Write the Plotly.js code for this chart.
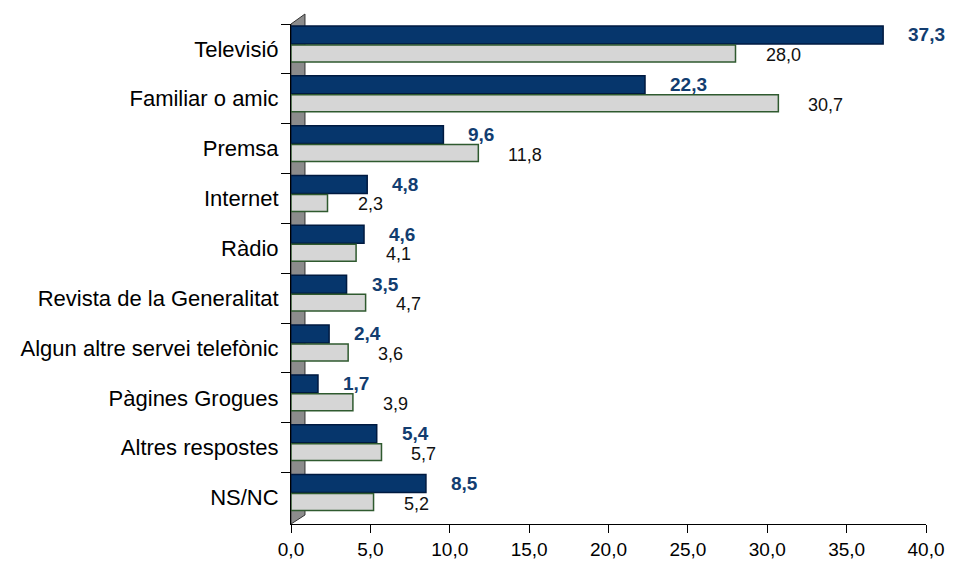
<!DOCTYPE html>
<html>
<head>
<meta charset="utf-8">
<script src="https://cdn.plot.ly/plotly-3.0.1.min.js"></script>
<style>html,body{margin:0;padding:0;background:#fff;}#chart{width:953px;height:564px;}</style>
</head>
<body>
<div id="chart"></div>
<script>
const categories = ["Televisió","Familiar o amic","Premsa","Internet","Ràdio","Revista de la Generalitat","Algun altre servei telefònic","Pàgines Grogues","Altres respostes","NS/NC"];
const seriesDark = [37.3,22.3,9.6,4.8,4.6,3.5,2.4,1.7,5.4,8.5];
const seriesLight = [28.0,30.7,11.8,2.3,4.1,4.7,3.6,3.9,5.7,5.2];
const xTicks = [0,5,10,15,20,25,30,35,40];

const fmt = v => v.toFixed(1).replace('.', ',');
const FONT = '"Liberation Sans", Arial, sans-serif';

const traces = [
  {
    type:'bar', orientation:'h', name:'A',
    x: seriesDark, y: categories,
    offset:-0.46, width:0.36,
    marker:{color:'#06366c', line:{color:'#001a40', width:1.5}},
    hoverinfo:'none'
  },
  {
    type:'bar', orientation:'h', name:'B',
    x: seriesLight, y: categories,
    offset:-0.08, width:0.34,
    marker:{color:'#d6d6d6', line:{color:'#2f5a2f', width:1.5}},
    hoverinfo:'none'
  }
];

const annotations = [];
categories.forEach((c,i)=>{
  annotations.push({x: seriesDark[i], y: c, xref:'x', yref:'y', text: fmt(seriesDark[i]),
    showarrow:false, xanchor:'left', yanchor:'middle', xshift:23, yshift:14,
    font:{family:FONT, size:19, color:'#123d70', weight:'bold'}});
  annotations.push({x: seriesLight[i], y: c, xref:'x', yref:'y', text: fmt(seriesLight[i]),
    showarrow:false, xanchor:'left', yanchor:'middle', xshift:28, yshift:-6,
    font:{family:FONT, size:18, color:'#111'}});
});

const layout = {
  width:953, height:564,
  margin:{l:291, r:27, t:24, b:40, pad:0},
  paper_bgcolor:'#fff', plot_bgcolor:'rgba(0,0,0,0)',
  showlegend:false,
  separators:',.',
  font:{family:FONT, size:19, color:'#000'},
  xaxis:{range:[0,40], tickvals:xTicks, tickformat:'.1f', ticks:'outside', ticklen:8, tickcolor:'#000',
    showline:true, linecolor:'#000', linewidth:1, showgrid:false, zeroline:false,
    tickfont:{family:FONT, size:19, color:'#000'}, fixedrange:true},
  yaxis:{type:'category', categoryorder:'array', categoryarray:categories, autorange:'reversed',
    tickson:'boundaries', ticks:'outside', ticklen:9, tickcolor:'#000',
    showline:true, linecolor:'#000', linewidth:1, showgrid:false, zeroline:false,
    tickfont:{family:FONT, size:22, color:'#000'}, ticklabelstandoff:7},
  barmode:'group',
  annotations: annotations,
  shapes:[{type:'path', xref:'paper', yref:'paper', layer:'below',
    path:'M 0,0 L 0,1 L 0.022,1.02 L 0.022,0.018 Z',
    fillcolor:'#8c8c8c', line:{color:'#333', width:1}}]
};

Plotly.newPlot('chart', traces, layout, {displayModeBar:false, staticPlot:true});
</script>
</body>
</html>
